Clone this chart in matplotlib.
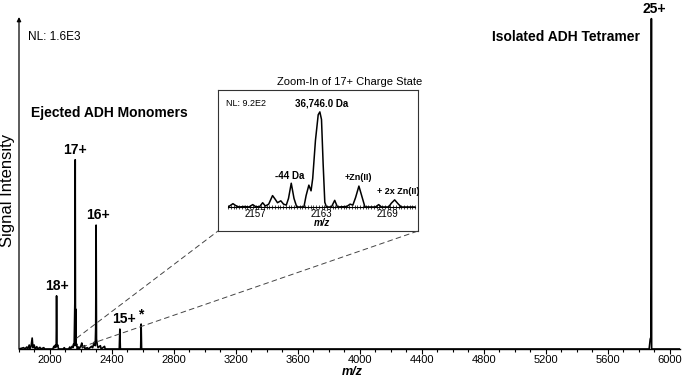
import matplotlib
matplotlib.use('Agg')
import matplotlib.pyplot as plt
from matplotlib.patches import ConnectionPatch
from matplotlib.ticker import MultipleLocator, FixedLocator

plt.rcParams['font.family'] = ['Liberation Sans', 'DejaVu Sans']

W, H = 685, 379

# Full spectrum (m/z, relative intensity; 25+ = ~1)
main_mz = [1800, 1830, 1838, 1850, 1856, 1866, 1870, 1878, 1885, 1890, 1898, 1904,
           1915, 1920, 1935, 1940, 1960, 1965, 2018, 2025, 2030, 2035, 2040, 2042.4,
           2045, 2050, 2055, 2085, 2092, 2098, 2120, 2128, 2133, 2142, 2148, 2152,
           2156, 2160.3, 2161.0, 2162.7, 2164.5, 2166.4, 2168, 2172, 2176, 2184, 2188,
           2200, 2205, 2210, 2222, 2226, 2240, 2248, 2268, 2275, 2285, 2292, 2295,
           2297.6, 2300, 2305, 2310, 2325, 2330, 2352, 2356, 2447, 2450.7, 2454,
           2585, 2588, 2591, 5866, 5873, 5877, 5879, 5880.4, 5882, 6065]
main_int = [0, 0.004, 0, 0.006, 0, 0.012, 0, 0.008, 0.033, 0.004, 0.012, 0,
            0.007, 0, 0.005, 0, 0.004, 0, 0, 0.008, 0.004, 0.012, 0.006, 0.16,
            0.008, 0.012, 0, 0, 0.004, 0, 0, 0.006, 0, 0.008, 0.004, 0.015,
            0.01, 0.14, 0.02, 0.57, 0.02, 0.12, 0.01, 0.015, 0, 0.006, 0,
            0.01, 0.018, 0.004, 0.01, 0, 0.004, 0, 0.008, 0.004, 0.02, 0.01, 0.066,
            0.373, 0.03, 0.012, 0.004, 0.01, 0, 0.008, 0, 0, 0.06, 0,
            0, 0.075, 0, 0, 0.03, 0.035, 0.2, 0.995, 0, 0]

# Peak labels
peak_labels = ['18+', '17+', '16+', '15+', '*', '25+']
peak_mz = [2042.4, 2162.7, 2297.6, 2450.7, 2588, 5880.4]
peak_int = [0.16, 0.57, 0.373, 0.06, 0.075, 0.995]
label_dx = [0, 0, 1.5, 3, 0, 2]

# Zoom-in of the 17+ charge state (m/z, relative intensity)
zoom_mz = [2154.5, 2154.7, 2154.95, 2155.2, 2155.5, 2156.0, 2156.4, 2156.75, 2157.0,
           2157.35, 2157.65, 2157.9, 2158.2, 2158.55, 2158.8, 2159.0, 2159.3, 2159.55,
           2159.8, 2160.0, 2160.25, 2160.5, 2160.75, 2161.4, 2161.6, 2161.85, 2162.05,
           2162.2, 2162.45, 2162.7, 2162.85, 2163.0, 2163.15, 2163.3, 2163.45, 2163.9,
           2164.2, 2164.45, 2165.3, 2165.6, 2165.85, 2166.1, 2166.4, 2166.7, 2166.95,
           2167.9, 2168.2, 2168.45, 2169.1, 2169.35, 2169.65, 2169.95, 2170.25, 2171.5]
zoom_int = [0.0, 0.015, 0.035, 0.015, 0.0, 0.005, 0.0, 0.025, 0.005,
            0.0, 0.045, 0.01, 0.03, 0.12, 0.08, 0.045, 0.065, 0.03,
            0.02, 0.09, 0.25, 0.09, 0.0, 0.0, 0.12, 0.23, 0.17,
            0.3, 0.7, 0.97, 1.0, 0.92, 0.45, 0.05, 0.0, 0.0,
            0.07, 0.0, 0.005, 0.03, 0.02, 0.1, 0.22, 0.1, 0.0,
            0.0, 0.025, 0.0, 0.0, 0.04, 0.075, 0.035, 0.0, 0.0]
zoom_ticks = [2157, 2163, 2169]


def fx(x):
    return x / W


def fy(y):
    return 1 - y / H


fig = plt.figure(figsize=(W / 100, H / 100), dpi=100)

# ---- main spectrum
ax = fig.add_axes([fx(19), fy(349), (680 - 19) / W, (349 - 17) / H])
ax.plot(main_mz, main_int, color='black', lw=1.2)
ax.set_xlim(1800, 6065)
ax.set_ylim(0, 1.0)
for s in ['top', 'right', 'left']:
    ax.spines[s].set_visible(False)
ax.spines['bottom'].set_linewidth(1.0)
ax.set_yticks([])
ax.xaxis.set_major_locator(MultipleLocator(400))
ax.xaxis.set_minor_locator(MultipleLocator(100))
ax.tick_params(axis='x', which='major', length=3.5, width=0.8, labelsize=8, pad=1)
ax.tick_params(axis='x', which='minor', length=2.5, width=0.8)
ax.annotate('', xy=(0, 1.0), xytext=(0, 0), xycoords='axes fraction',
            arrowprops=dict(arrowstyle='-|>', lw=0.9, color='black',
                            mutation_scale=6, shrinkA=0, shrinkB=0))

for lab, mz, h, dx in zip(peak_labels, peak_mz, peak_int, label_dx):
    ax.annotate(lab, xy=(mz, h), xytext=(dx, 2), textcoords='offset points',
                ha='center', va='bottom', fontsize=10, fontweight='bold')

fig.text(fx(8), fy(190), 'Signal Intensity', rotation=90, ha='center', va='center', fontsize=12)
fig.text(fx(352), fy(372), 'm/z', ha='center', va='center', fontsize=9,
         fontweight='bold', fontstyle='italic')
fig.text(fx(28), fy(37), 'NL: 1.6E3', ha='left', va='center', fontsize=8.5)
fig.text(fx(31), fy(113), 'Ejected ADH Monomers', ha='left', va='center',
         fontsize=10, fontweight='bold')
fig.text(fx(566), fy(37), 'Isolated ADH Tetramer', ha='center', va='center',
         fontsize=10, fontweight='bold')

# ---- inset box
box = fig.add_axes([fx(218), fy(231), 200 / W, 141 / H])
box.set_xticks([])
box.set_yticks([])
for s in box.spines.values():
    s.set_linewidth(0.8)
    s.set_color('#333333')
fig.text(fx(422), fy(82), 'Zoom-In of 17+ Charge State', ha='right', va='center', fontsize=8)

ins = fig.add_axes([fx(228), fy(207), 187 / W, 97 / H])
ins.patch.set_alpha(0)
ins.plot(zoom_mz, zoom_int, color='black', lw=1.1)
ins.set_xlim(2154.5, 2171.5)
ins.set_ylim(0, 1.02)
for s in ['top', 'right', 'left']:
    ins.spines[s].set_visible(False)
ins.spines['bottom'].set_linewidth(0.8)
ins.set_yticks([])
ins.xaxis.set_major_locator(FixedLocator(zoom_ticks))
ins.xaxis.set_minor_locator(MultipleLocator(0.25))
ins.tick_params(axis='x', which='both', direction='inout', length=2.5, width=0.5,
                labelsize=7, pad=0.5)
fig.text(fx(322), fy(223), 'm/z', ha='center', va='center', fontsize=7,
         fontweight='bold', fontstyle='italic')
fig.text(fx(226), fy(104), 'NL: 9.2E2', ha='left', va='center', fontsize=6.5)
fig.text(fx(322), fy(104), '36,746.0 Da', ha='center', va='center', fontsize=7, fontweight='bold')
fig.text(fx(290), fy(176), '-44 Da', ha='center', va='center', fontsize=7, fontweight='bold')
fig.text(fx(358), fy(177), '+Zn(II)', ha='center', va='center', fontsize=6.5, fontweight='bold')
fig.text(fx(398), fy(191), '+ 2x Zn(II)', ha='center', va='center', fontsize=6.5, fontweight='bold')

# ---- dashed connectors
for xy_a, xy_b in [((2173, 0.033), (fx(218), fy(231))),
                   ((2205, 0.006), (fx(418), fy(231)))]:
    con = ConnectionPatch(xyA=xy_a, coordsA=ax.transData, xyB=xy_b, coordsB=fig.transFigure,
                          linestyle=(0, (5, 4)), lw=0.7, color='#444444')
    fig.add_artist(con)

fig.savefig('out.png', dpi=100)
